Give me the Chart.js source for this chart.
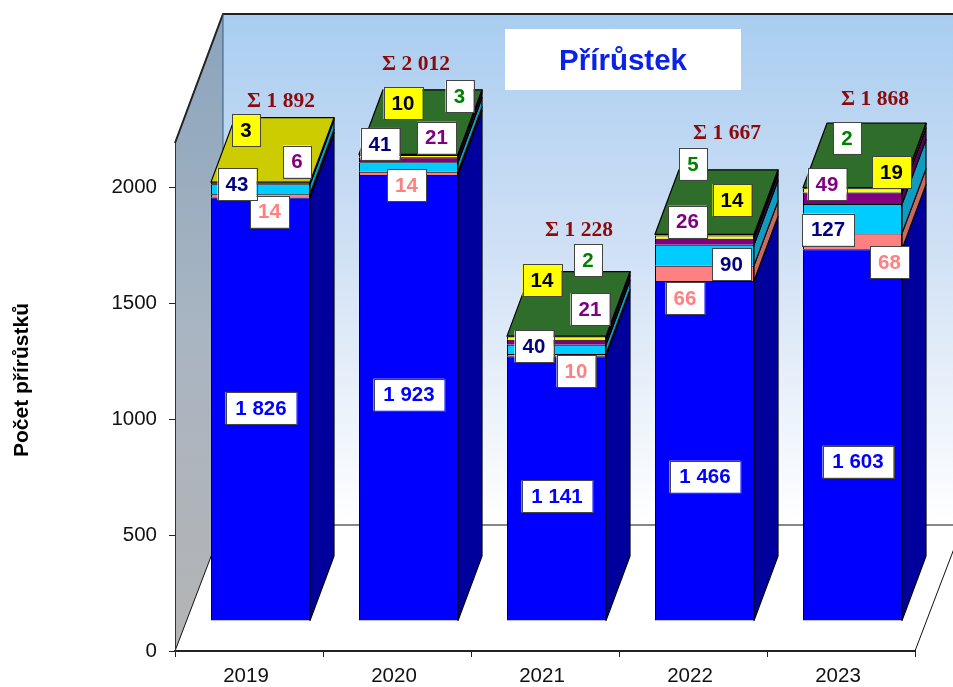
<!DOCTYPE html>
<html><head><meta charset="utf-8">
<style>html,body{margin:0;padding:0;background:#fff}canvas{display:block}</style>
<script src="https://cdn.jsdelivr.net/npm/chart.js@4"></script>
</head><body><canvas id="c" width="953" height="687"></canvas>
<script>
const years = ['2019','2020','2021','2022','2023'];
const blueValues   = [1826,1923,1141,1466,1603];
const salmonValues = [14,14,10,66,68];
const cyanValues   = [43,41,40,90,127];
const purpleValues = [6,21,21,26,49];
const yellowValues = [3,10,14,14,19];
const greenValues  = [0,3,2,5,2];
const yTicks = [0,500,1000,1500,2000];
const sumLabels = ['Σ 1 892','Σ 2 012','Σ 1 228','Σ 1 667','Σ 1 868'];
const chartTitle = 'Přírůstek';
const axisTitle = 'Počet přírůstků';

// styles per series
const styles = [
 {fill:'#0000ff',side:'#00009c',top:'#0000c0',text:'#0000ff',box:'#fff'},
 {fill:'#ff8080',side:'#c96a60',top:'#cc6666',text:'#ff8080',box:'#fff'},
 {fill:'#00ccff',side:'#0f9cc0',top:'#00a3cc',text:'#000080',box:'#fff'},
 {fill:'#800080',side:'#5c005c',top:'#660066',text:'#800080',box:'#fff'},
 {fill:'#ffff00',side:'#a8a800',top:'#cccc00',text:'#000000',box:'#ffff00'},
 {fill:'#2f7a2f',side:'#1f5c1f',top:'#2e6e2a',text:'#008000',box:'#fff'}
];
// label nudges relative to each segment centre on the front face [dx,dy], per series per year
const labelNudges = [
 [[0.5,-1],[0.5,-3],[0.5,8],[0.5,26],[5.5,27]],
 [[9,16],[-2,12],[19.5,16],[-19.5,25],[37,21]],
 [[-23.5,-5],[-28.5,-23],[-22.5,-3],[27,9],[-24.5,11]],
 [[36.5,-22],[28,-22],[33.5,-33],[-17,-20],[-25.5,-14]],
 [[-14.5,-52],[-5.5,-53],[-14.5,-58],[27.5,-37],[39,-18]],
 [[0,0],[51,-58.5],[31.5,-76],[-11.5,-71],[-5.5,-50]]
];
const sumNudges = [[20.5,-81],[7.5,-90],[22.5,-106],[22.5,-101],[22.5,-88]];

const barShift = {x:11.5,y:-30};      // bars sit part-way into the floor
const barDepth = {x:24,y:-64.5};      // depth of one bar
const wallDepth = {x:48,y:-126};      // depth of the floor

const backdrop = {
 id:'backdrop',
 beforeDraw(chart){
  const {ctx,chartArea:a,width,height}=chart;
  ctx.save();
  ctx.fillStyle='#fff';ctx.fillRect(0,0,width,height);
  const bx=a.left+wallDepth.x, by=a.bottom+wallDepth.y, top=14;
  // back wall
  const g=ctx.createLinearGradient(0,top,0,by);
  g.addColorStop(0,'#a9cdf0');g.addColorStop(0.45,'#cfe0f5');g.addColorStop(0.8,'#eef4fb');g.addColorStop(1,'#ffffff');
  ctx.fillStyle=g;ctx.fillRect(bx,top,width-bx,by-top);
  // side wall
  const s=ctx.createLinearGradient(0,top,0,a.bottom);
  s.addColorStop(0,'#8aa4bd');s.addColorStop(0.5,'#a9b5c2');s.addColorStop(1,'#b4b4b4');
  ctx.fillStyle=s;ctx.beginPath();
  ctx.moveTo(a.left,a.top);ctx.lineTo(bx,top);ctx.lineTo(bx,by);ctx.lineTo(a.left,a.bottom);ctx.closePath();ctx.fill();
  // edges
  ctx.strokeStyle='#222';ctx.lineWidth=2;
  ctx.beginPath();ctx.moveTo(a.left,a.top);ctx.lineTo(bx,top);ctx.lineTo(width,top);ctx.stroke();
  ctx.lineWidth=1;
  ctx.strokeStyle='#3b5a78';ctx.beginPath();ctx.moveTo(bx,top);ctx.lineTo(bx,by);ctx.stroke();
  ctx.strokeStyle='#111';
  ctx.beginPath();ctx.moveTo(a.left,a.bottom);ctx.lineTo(bx,by);ctx.lineTo(width,by);ctx.stroke();
  ctx.beginPath();ctx.moveTo(a.right,a.bottom);ctx.lineTo(a.right+wallDepth.x,a.bottom+wallDepth.y);ctx.stroke();
  ctx.restore();
 }
};

const bars3d = {
 id:'bars3d',
 beforeDatasetsDraw(chart){
  chart.ctx.save();chart.ctx.translate(barShift.x,barShift.y);
 },
 afterDatasetsDraw(chart){
  const ctx=chart.ctx;
  ctx.strokeStyle='#000';ctx.lineWidth=1.2;ctx.lineJoin='round';
  years.forEach((_,i)=>{
   let topIdx=0;
   chart.data.datasets.forEach((ds,d)=>{
    if(ds.data[i]>0) topIdx=d;
    const el=chart.getDatasetMeta(d).data[i];
    const r=el.x+el.width/2;
    if(ds.data[i]<=0) return;
    ctx.fillStyle=styles[d].side;
    ctx.beginPath();
    ctx.moveTo(r,el.y);ctx.lineTo(r+barDepth.x,el.y+barDepth.y);
    ctx.lineTo(r+barDepth.x,el.base+barDepth.y);ctx.lineTo(r,el.base);ctx.closePath();
    ctx.fill();ctx.stroke();
   });
   const el=chart.getDatasetMeta(topIdx).data[i];
   const l=el.x-el.width/2,r=el.x+el.width/2;
   ctx.fillStyle=styles[topIdx].top;
   ctx.beginPath();
   ctx.moveTo(l,el.y);ctx.lineTo(l+barDepth.x,el.y+barDepth.y);
   ctx.lineTo(r+barDepth.x,el.y+barDepth.y);ctx.lineTo(r,el.y);ctx.closePath();
   ctx.fill();ctx.stroke();
  });
  ctx.restore();
 }
};

const annotate = {
 id:'annotate',
 afterDraw(chart){
  const ctx=chart.ctx;
  ctx.save();
  ctx.textAlign='center';ctx.textBaseline='middle';
  chart.data.datasets.forEach((ds,d)=>{
   ds.data.forEach((v,i)=>{
    if(v<=0) return;
    const el=chart.getDatasetMeta(d).data[i];
    const cx=el.x+barShift.x+labelNudges[d][i][0];
    const cy=(el.y+el.base)/2+barShift.y+labelNudges[d][i][1];
    const txt=String(v).replace(/\B(?=(\d{3})+$)/g,' ');
    const w=txt.length===1?28:txt.length===2?39:txt.length===3?52:71;
    const h=32;
    ctx.fillStyle=styles[d].box;
    ctx.strokeStyle='#444';ctx.lineWidth=1;
    ctx.fillRect(cx-w/2,cy-h/2,w,h);
    ctx.strokeRect(Math.round(cx-w/2)+.5,Math.round(cy-h/2)+.5,w,h);
    ctx.fillStyle=styles[d].text;
    ctx.font='bold 20.5px "Liberation Sans"';
    ctx.fillText(txt,cx,cy+1);
   });
  });
  // sums
  ctx.font='bold 21.5px "Liberation Serif"';
  ctx.fillStyle='#8b0a0a';
  years.forEach((_,i)=>{
   const el=chart.getDatasetMeta(5).data[i];
   ctx.fillText(sumLabels[i],el.x+barShift.x+sumNudges[i][0],el.y+barShift.y+sumNudges[i][1]);
  });
  // title
  ctx.fillStyle='#fff';ctx.fillRect(505,29,236,61);
  ctx.fillStyle='#0a22e6';
  ctx.font='bold 29.5px "Liberation Sans"';
  ctx.fillText(chartTitle,623,62);
  // axis title
  ctx.save();
  ctx.translate(22.5,380);ctx.rotate(-Math.PI/2);
  ctx.fillStyle='#000';
  ctx.font='bold 21px "Liberation Sans"';
  ctx.fillText(axisTitle,0,0);
  ctx.restore();
  ctx.restore();
 }
};

const seriesValues=[blueValues,salmonValues,cyanValues,purpleValues,yellowValues,greenValues];
new Chart(document.getElementById('c'),{
 type:'bar',
 data:{labels:years,datasets:seriesValues.map((data,d)=>({
   data,backgroundColor:styles[d].fill,borderColor:'#000',borderWidth:1,
   categoryPercentage:1,barPercentage:0.669,clip:false
 }))},
 options:{
  responsive:false,animation:false,
  layout:{padding:{top:143,right:38,left:0,bottom:0}},
  plugins:{legend:{display:false},title:{display:false},tooltip:{enabled:false}},
  scales:{
   x:{stacked:true,
    afterFit(s){s.height=36;},
    border:{display:true,color:'#222',width:2},
    grid:{display:true,drawOnChartArea:false,drawTicks:true,tickLength:6,tickColor:'#222',offset:true},
    ticks:{color:'#111',font:{family:'"Liberation Sans"',size:20.5},labelOffset:-3,padding:7,maxRotation:0}
   },
   y:{stacked:true,min:0,max:2190,
    afterFit(s){s.width=175;},
    afterBuildTicks(s){s.ticks=yTicks.map(value=>({value}));},
    border:{display:true,color:'#333',width:1},
    grid:{display:true,drawOnChartArea:false,drawTicks:true,tickLength:6,tickColor:'#222'},
    ticks:{color:'#111',padding:12,font:{family:'"Liberation Sans"',size:20.5},callback:v=>String(v)}
   }
  }
 },
 plugins:[backdrop,bars3d,annotate]
});
</script></body></html>
